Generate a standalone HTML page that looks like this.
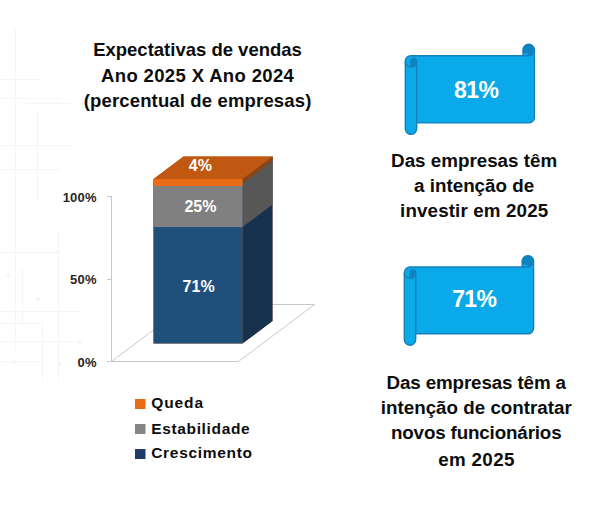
<!DOCTYPE html>
<html>
<head>
<meta charset="utf-8">
<style>
html,body{margin:0;padding:0;background:#fff;}
body{width:600px;height:518px;position:relative;overflow:hidden;font-family:"Liberation Sans",sans-serif;font-weight:bold;}
svg{position:absolute;left:0;top:0;}
.t{position:absolute;white-space:nowrap;line-height:1;}
.c{text-align:center;}
</style>
</head>
<body>
<svg width="600" height="518" viewBox="0 0 600 518">
<g stroke="#f5f5f5" stroke-width="1" fill="none">
<path d="M15.5,28 V350 M37.5,110 V200 M58.5,230 V380 M22.5,268 V326 M42.5,323 V380 M0,79.5 H42 M0,98.5 H60 M25,103.5 H70 M0,145.5 H74 M0,169.5 H60 M0,252.5 H58 M0,311.5 H80 M0,323.5 H40 M0,341.5 H80 M0,361.5 H40"/>
</g>
<g fill="#f5f5f5"><circle cx="8" cy="275" r="2"/><circle cx="38" cy="299" r="2"/><circle cx="80" cy="342" r="2"/><circle cx="14" cy="362" r="2"/><circle cx="60" cy="364" r="2"/><circle cx="58" cy="252" r="2"/></g>
<g stroke="#c8c8c8" stroke-width="1" fill="none">
<path d="M111.5,196 L111.5,361.5 M107,196.5 L111.5,196.5 M107,279.5 L111.5,279.5 M106.5,361.5 L238.5,361.5 L314.5,304.5 L187.5,304.5 L111.5,361.5"/>
</g>
<polygon points="153.5,179 183.5,156.5 272.5,156.5 272.5,321.0 242.5,343.5 153.5,343.5" fill="#c05812"/>
<polygon points="242.5,179 272.5,156.5 272.5,321.0 242.5,343.5" fill="#17324f"/>
<polygon points="242.5,179 272.5,156.5 272.5,204.6 242.5,227.1" fill="#575757"/>
<polygon points="242.5,179 272.5,156.5 272.5,161.0 242.5,183.5" fill="#8a4516"/>
<polygon points="153.5,179 183.5,156.5 272.5,156.5 242.5,179" fill="#c05812"/>
<rect x="153.5" y="179" width="89.0" height="164.5" fill="#1f4f7b"/>
<rect x="153.5" y="179" width="89.0" height="48.099999999999994" fill="#808080"/>
<rect x="153.5" y="179" width="89.0" height="7" fill="#ea6c16"/>
<rect x="135" y="399" width="10.5" height="10" fill="#ea6c16"/>
<rect x="135" y="424" width="10.5" height="10" fill="#858585"/>
<rect x="135" y="449" width="10.5" height="10" fill="#213a68"/>
<path d="M405.30,61.40 A5.70,5.70 0 0 1 411.00,55.70 L523.00,55.70 L523.00,50.00 A5.70,5.70 0 0 1 534.40,50.00 L534.40,117.20 A5.70,5.70 0 0 1 528.70,122.90 L416.70,122.90 L416.70,128.60 A5.70,5.70 0 0 1 405.30,128.60 Z" fill="#0aa9ea"/>
<path d="M411.00,67.10 A5.70,5.70 0 0 0 416.70,61.40 A2.85,2.85 0 0 0 411.00,61.40 Z" fill="#0b85c0"/>
<path d="M528.70,55.70 A5.70,5.70 0 1 0 523.00,50.00 A2.85,2.85 0 0 0 528.70,50.00 Z" fill="#0b85c0"/>
<g fill="none" stroke="#1680bb" stroke-width="1.4" stroke-linejoin="round">
<path d="M405.30,61.40 A5.70,5.70 0 0 1 411.00,55.70 L523.00,55.70 L523.00,50.00 A5.70,5.70 0 0 1 534.40,50.00 L534.40,117.20 A5.70,5.70 0 0 1 528.70,122.90 L416.70,122.90 L416.70,128.60 A5.70,5.70 0 0 1 405.30,128.60 Z"/>
<path d="M523.00,55.70 L528.70,55.70 A5.70,5.70 0 0 0 534.40,50.00"/>
<path d="M528.70,55.70 L528.70,50.00 A2.85,2.85 0 0 1 523.00,50.00"/>
<path d="M411.00,67.10 L411.00,61.40 A2.85,2.85 0 0 1 416.70,61.40 A5.70,5.70 0 0 1 405.30,61.40"/>
<path d="M416.70,61.40 L416.70,122.90"/>
</g>
<path d="M404.30,272.70 A5.70,5.70 0 0 1 410.00,267.00 L522.20,267.00 L522.20,261.30 A5.70,5.70 0 0 1 533.60,261.30 L533.60,328.10 A5.70,5.70 0 0 1 527.90,333.80 L415.70,333.80 L415.70,339.50 A5.70,5.70 0 0 1 404.30,339.50 Z" fill="#0aa9ea"/>
<path d="M410.00,278.40 A5.70,5.70 0 0 0 415.70,272.70 A2.85,2.85 0 0 0 410.00,272.70 Z" fill="#0b85c0"/>
<path d="M527.90,267.00 A5.70,5.70 0 1 0 522.20,261.30 A2.85,2.85 0 0 0 527.90,261.30 Z" fill="#0b85c0"/>
<g fill="none" stroke="#1680bb" stroke-width="1.4" stroke-linejoin="round">
<path d="M404.30,272.70 A5.70,5.70 0 0 1 410.00,267.00 L522.20,267.00 L522.20,261.30 A5.70,5.70 0 0 1 533.60,261.30 L533.60,328.10 A5.70,5.70 0 0 1 527.90,333.80 L415.70,333.80 L415.70,339.50 A5.70,5.70 0 0 1 404.30,339.50 Z"/>
<path d="M522.20,267.00 L527.90,267.00 A5.70,5.70 0 0 0 533.60,261.30"/>
<path d="M527.90,267.00 L527.90,261.30 A2.85,2.85 0 0 1 522.20,261.30"/>
<path d="M410.00,278.40 L410.00,272.70 A2.85,2.85 0 0 1 415.70,272.70 A5.70,5.70 0 0 1 404.30,272.70"/>
<path d="M415.70,272.70 L415.70,333.80"/>
</g>
</svg>
<div class="t c" style="left:47.50px;top:40.74px;width:300px;font-size:18.5px;letter-spacing:0px;color:#0d0d0d;">Expectativas de vendas</div>
<div class="t c" style="left:47.67px;top:67.04px;width:300px;font-size:18.5px;letter-spacing:0.35px;color:#0d0d0d;">Ano 2025 X Ano 2024</div>
<div class="t c" style="left:47.58px;top:91.94px;width:300px;font-size:18.5px;letter-spacing:0.15px;color:#0d0d0d;">(percentual de empresas)</div>
<div class="t c" style="left:354.10px;top:152.49px;width:240px;font-size:18.8px;letter-spacing:0px;color:#0d0d0d;">Das empresas têm</div>
<div class="t c" style="left:354.10px;top:177.29px;width:240px;font-size:18.8px;letter-spacing:0px;color:#0d0d0d;">a intenção de</div>
<div class="t c" style="left:354.17px;top:202.29px;width:240px;font-size:18.8px;letter-spacing:0.13px;color:#0d0d0d;">investir em 2025</div>
<div class="t c" style="left:356.24px;top:374.09px;width:240px;font-size:18.8px;letter-spacing:-0.13px;color:#0d0d0d;">Das empresas têm a</div>
<div class="t c" style="left:356.30px;top:399.19px;width:240px;font-size:18.8px;letter-spacing:0px;color:#0d0d0d;">intenção de contratar</div>
<div class="t c" style="left:356.23px;top:424.39px;width:240px;font-size:18.8px;letter-spacing:-0.15px;color:#0d0d0d;">novos funcionários</div>
<div class="t c" style="left:356.47px;top:451.49px;width:240px;font-size:18.8px;letter-spacing:0.33px;color:#0d0d0d;">em 2025</div>
<div class="t" style="left:151.20px;top:394.88px;font-size:15.5px;letter-spacing:0.9px;color:#0d0d0d;">Queda</div>
<div class="t" style="left:151.20px;top:421.18px;font-size:15.5px;letter-spacing:0.65px;color:#0d0d0d;">Estabilidade</div>
<div class="t" style="left:151.20px;top:445.28px;font-size:15.5px;letter-spacing:0.7px;color:#0d0d0d;">Crescimento</div>
<div class="t" style="right:503.30px;top:190.80px;font-size:13px;letter-spacing:0.2px;color:#262626;">100%</div>
<div class="t" style="right:503.30px;top:273.30px;font-size:13px;letter-spacing:0.2px;color:#262626;">50%</div>
<div class="t" style="right:503.30px;top:355.80px;font-size:13px;letter-spacing:0.2px;color:#262626;">0%</div>
<div class="t c" style="left:150.40px;top:157.96px;width:100px;font-size:16px;letter-spacing:0px;color:#fff;">4%</div>
<div class="t c" style="left:150.40px;top:199.46px;width:100px;font-size:16px;letter-spacing:0px;color:#fff;">25%</div>
<div class="t c" style="left:148.60px;top:278.86px;width:100px;font-size:16px;letter-spacing:0px;color:#fff;">71%</div>
<div class="t c" style="left:416.20px;top:78.53px;width:120px;font-size:23px;letter-spacing:-0.6px;color:#fff;">81%</div>
<div class="t c" style="left:414.30px;top:287.53px;width:120px;font-size:23px;letter-spacing:-0.6px;color:#fff;">71%</div>
</body>
</html>
